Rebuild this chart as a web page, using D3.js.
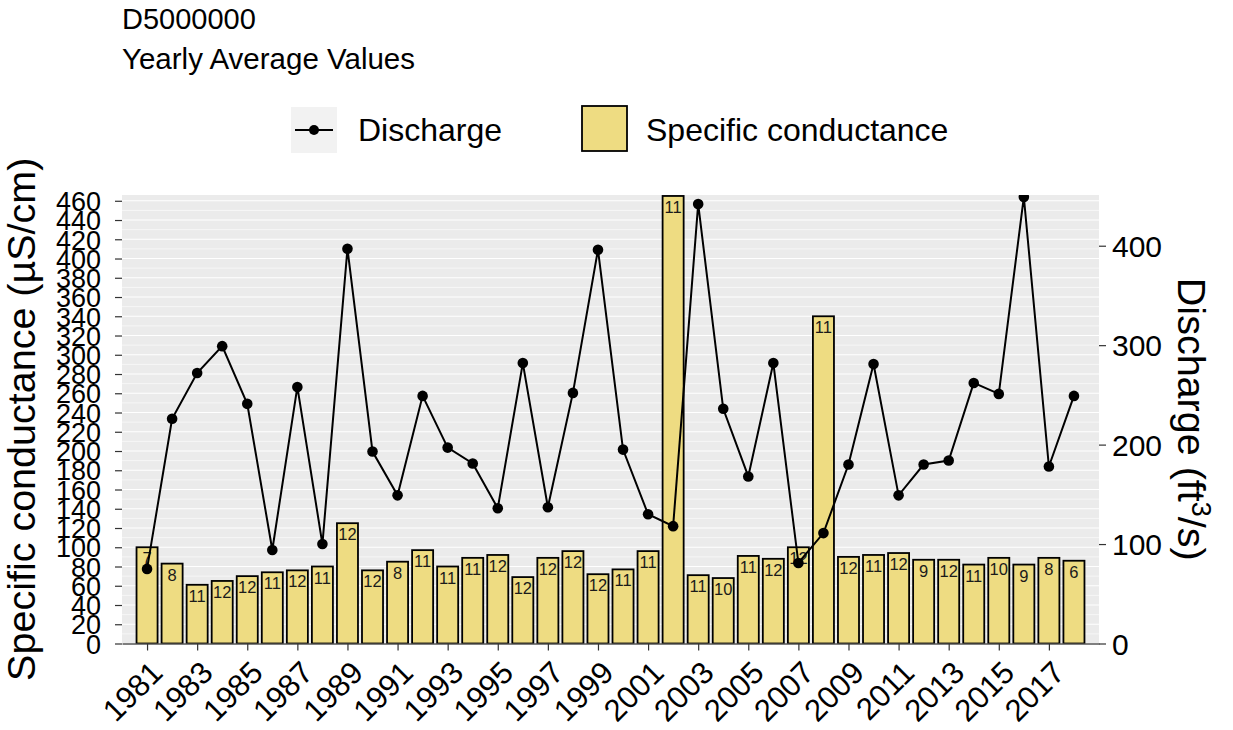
<!DOCTYPE html>
<html>

<head>
    <meta charset="utf-8">
    <title>D5000000 Yearly Average Values</title>
    <script src="https://d3js.org/d3.v7.min.js"></script>
    <style>
        body {
            margin: 0;
            background: #fff;
        }

        svg text {
            font-family: "Liberation Sans", Arial, sans-serif;
        }
    </style>
</head>

<body>
    <div id="chart"></div>
    <script>
        // values
        const years = [1981, 1982, 1983, 1984, 1985, 1986, 1987, 1988, 1989, 1990,
            1991, 1992, 1993, 1994, 1995, 1996, 1997, 1998, 1999, 2000,
            2001, 2002, 2003, 2004, 2005, 2006, 2007, 2008, 2009, 2010,
            2011, 2012, 2013, 2014, 2015, 2016, 2017, 2018]
        const conductance = [100, 83, 61, 65, 70, 74, 76, 80, 125, 76,
            85, 97, 80, 89, 92, 69, 89, 96, 72, 77,
            96, 465, 71, 68, 91, 88, 100, 340, 90, 92,
            94, 87, 87, 82, 89, 82, 89, 86]
        const sampleCounts = [7, 8, 11, 12, 12, 11, 12, 11, 12, 12,
            8, 11, 11, 11, 12, 12, 12, 12, 12, 11,
            11, 11, 11, 10, 11, 12, 12, 11, 12, 11,
            12, 9, 12, 11, 10, 9, 8, 6]
        const discharge = [75, 226, 272, 299, 241, 94, 258, 100, 397, 193,
            149, 249, 197, 181, 136, 282, 137, 252, 396, 195,
            130, 118, 442, 236, 168, 282, 81, 111, 180, 281,
            149, 180, 184, 262, 251, 449, 178, 249]
        const yearTicks = [1981, 1983, 1985, 1987, 1989, 1991, 1993, 1995, 1997, 1999,
            2001, 2003, 2005, 2007, 2009, 2011, 2013, 2015, 2017]
        const condTicks = [0, 20, 40, 60, 80, 100, 120, 140, 160, 180, 200, 220, 240,
            260, 280, 300, 320, 340, 360, 380, 400, 420, 440, 460]
        const condMinor = [10, 30, 50, 70, 90, 110, 130, 150, 170, 190, 210, 230, 250,
            270, 290, 310, 330, 350, 370, 390, 410, 430, 450]
        const dischargeTicks = [0, 100, 200, 300, 400]

        const w = 1233, h = 730
        const panel = { left: 122, right: 1099, top: 195, bottom: 643.5 }

        const rows = years.map((y, i) => ({
            year: y, sc: conductance[i], n: sampleCounts[i], q: discharge[i]
        }))

        const x = d3.scaleLinear().domain([1980, 2019]).range([panel.left, panel.right])
        const ySC = d3.scaleLinear().domain([0, 466]).range([panel.bottom, panel.top])
        const yQ = d3.scaleLinear().domain([0, 451]).range([panel.bottom, panel.top])
        const step = x(1981) - x(1980)
        const barW = step * 0.84

        const svg = d3.select("#chart").append("svg")
            .attr("width", w)
            .attr("height", h)

        svg.append("defs").append("clipPath")
            .attr("id", "panel-clip")
            .append("rect")
            .attr("x", panel.left)
            .attr("y", panel.top)
            .attr("width", panel.right - panel.left)
            .attr("height", panel.bottom - panel.top)

        // titles
        svg.append("text")
            .attr("x", 122).attr("y", 29)
            .style("font-size", "29px")
            .text("D5000000")
        svg.append("text")
            .attr("x", 122).attr("y", 69)
            .style("font-size", "29.5px")
            .text("Yearly Average Values")

        // legend
        const legend = svg.append("g")
        legend.append("rect")
            .attr("x", 291).attr("y", 107)
            .attr("width", 46).attr("height", 46)
            .attr("fill", "#f2f2f2")
        legend.append("line")
            .attr("x1", 295).attr("x2", 333)
            .attr("y1", 130).attr("y2", 130)
            .attr("stroke", "black").attr("stroke-width", 2)
        legend.append("circle")
            .attr("cx", 314).attr("cy", 130).attr("r", 5)
            .attr("fill", "black")
        legend.append("text")
            .attr("x", 358).attr("y", 141)
            .style("font-size", "32px")
            .text("Discharge")
        legend.append("rect")
            .attr("x", 582).attr("y", 106)
            .attr("width", 45).attr("height", 45)
            .attr("fill", "#eedc82")
            .attr("stroke", "black").attr("stroke-width", 1.8)
        legend.append("text")
            .attr("x", 646).attr("y", 141)
            .style("font-size", "32px")
            .text("Specific conductance")

        // panel background + grid
        svg.append("rect")
            .attr("x", panel.left).attr("y", panel.top)
            .attr("width", panel.right - panel.left)
            .attr("height", panel.bottom - panel.top)
            .attr("fill", "#ebebeb")

        svg.append("g").selectAll("line")
            .data(condMinor)
            .join("line")
            .attr("x1", panel.left).attr("x2", panel.right)
            .attr("y1", d => ySC(d)).attr("y2", d => ySC(d))
            .attr("stroke", "white").attr("stroke-width", 0.6)

        svg.append("g").selectAll("line")
            .data(condTicks)
            .join("line")
            .attr("x1", panel.left).attr("x2", panel.right)
            .attr("y1", d => ySC(d)).attr("y2", d => ySC(d))
            .attr("stroke", "white").attr("stroke-width", 1.2)

        const plot = svg.append("g").attr("clip-path", "url(#panel-clip)")

        // bars
        plot.selectAll("rect.bar")
            .data(rows)
            .join("rect")
            .attr("class", "bar")
            .attr("x", d => x(d.year) - barW / 2)
            .attr("y", d => ySC(d.sc))
            .attr("width", barW)
            .attr("height", d => ySC(0) - ySC(d.sc))
            .attr("fill", "#eedc82")
            .attr("stroke", "black")
            .attr("stroke-width", 1.8)

        // sample counts inside bars
        plot.selectAll("text.count")
            .data(rows)
            .join("text")
            .attr("class", "count")
            .attr("x", d => x(d.year))
            .attr("y", d => ySC(d.sc) + 17)
            .attr("text-anchor", "middle")
            .attr("fill", "#1a1a1a")
            .style("font-size", "16.5px")
            .text(d => d.n)

        // discharge line + points
        const line = d3.line()
            .x(d => x(d.year))
            .y(d => yQ(d.q))

        plot.append("path")
            .datum(rows)
            .attr("d", line)
            .attr("fill", "none")
            .attr("stroke", "black")
            .attr("stroke-width", 2)

        plot.selectAll("circle")
            .data(rows)
            .join("circle")
            .attr("cx", d => x(d.year))
            .attr("cy", d => yQ(d.q))
            .attr("r", 5.3)
            .attr("fill", "black")

        // axes
        const xAxis = d3.axisBottom(x)
            .tickValues(yearTicks)
            .tickFormat(d3.format("d"))
            .tickSize(7)
            .tickSizeOuter(0)

        const gx = svg.append("g")
            .attr("transform", "translate(0," + panel.bottom + ")")
            .call(xAxis)
        gx.select(".domain").attr("stroke", "black").attr("stroke-width", 1.2)
        gx.selectAll(".tick line").attr("stroke", "#333").attr("stroke-width", 1.2)
        gx.selectAll(".tick text")
            .attr("fill", "black")
            .style("font-size", "31px")
            .attr("text-anchor", "end")
            .attr("y", 0).attr("dy", 0)
            .attr("transform", "translate(17,31) rotate(-45)")

        const gl = svg.append("g")
            .attr("transform", "translate(" + panel.left + ",0)")
            .call(d3.axisLeft(ySC).tickValues(condTicks).tickSize(7).tickPadding(14))
        gl.select(".domain").remove()
        gl.selectAll(".tick line").attr("stroke", "#333").attr("stroke-width", 1.2)
        gl.selectAll(".tick text")
            .attr("fill", "black")
            .attr("dy", "0.36em")
            .style("font-size", "27px")

        const gr = svg.append("g")
            .attr("transform", "translate(" + panel.right + ",0)")
            .call(d3.axisRight(yQ).tickValues(dischargeTicks).tickSize(7).tickPadding(6))
        gr.select(".domain").remove()
        gr.selectAll(".tick line").attr("stroke", "#333").attr("stroke-width", 1.2)
        gr.selectAll(".tick text")
            .attr("fill", "black")
            .attr("dy", "0.36em")
            .style("font-size", "30px")

        // axis titles
        svg.append("text")
            .attr("transform", "translate(35," + (panel.top + panel.bottom) / 2 + ") rotate(-90)")
            .attr("text-anchor", "middle")
            .style("font-size", "39.5px")
            .text("Specific conductance (µS/cm)")

        const rt = svg.append("text")
            .attr("transform", "translate(1178," + (panel.top + panel.bottom) / 2 + ") rotate(90)")
            .attr("text-anchor", "middle")
            .style("font-size", "39.5px")
        rt.append("tspan").text("Discharge (ft")
        rt.append("tspan").attr("dy", -14).style("font-size", "27px").text("3")
        rt.append("tspan").attr("dy", 14).text("/s)")
    </script>
</body>

</html>
